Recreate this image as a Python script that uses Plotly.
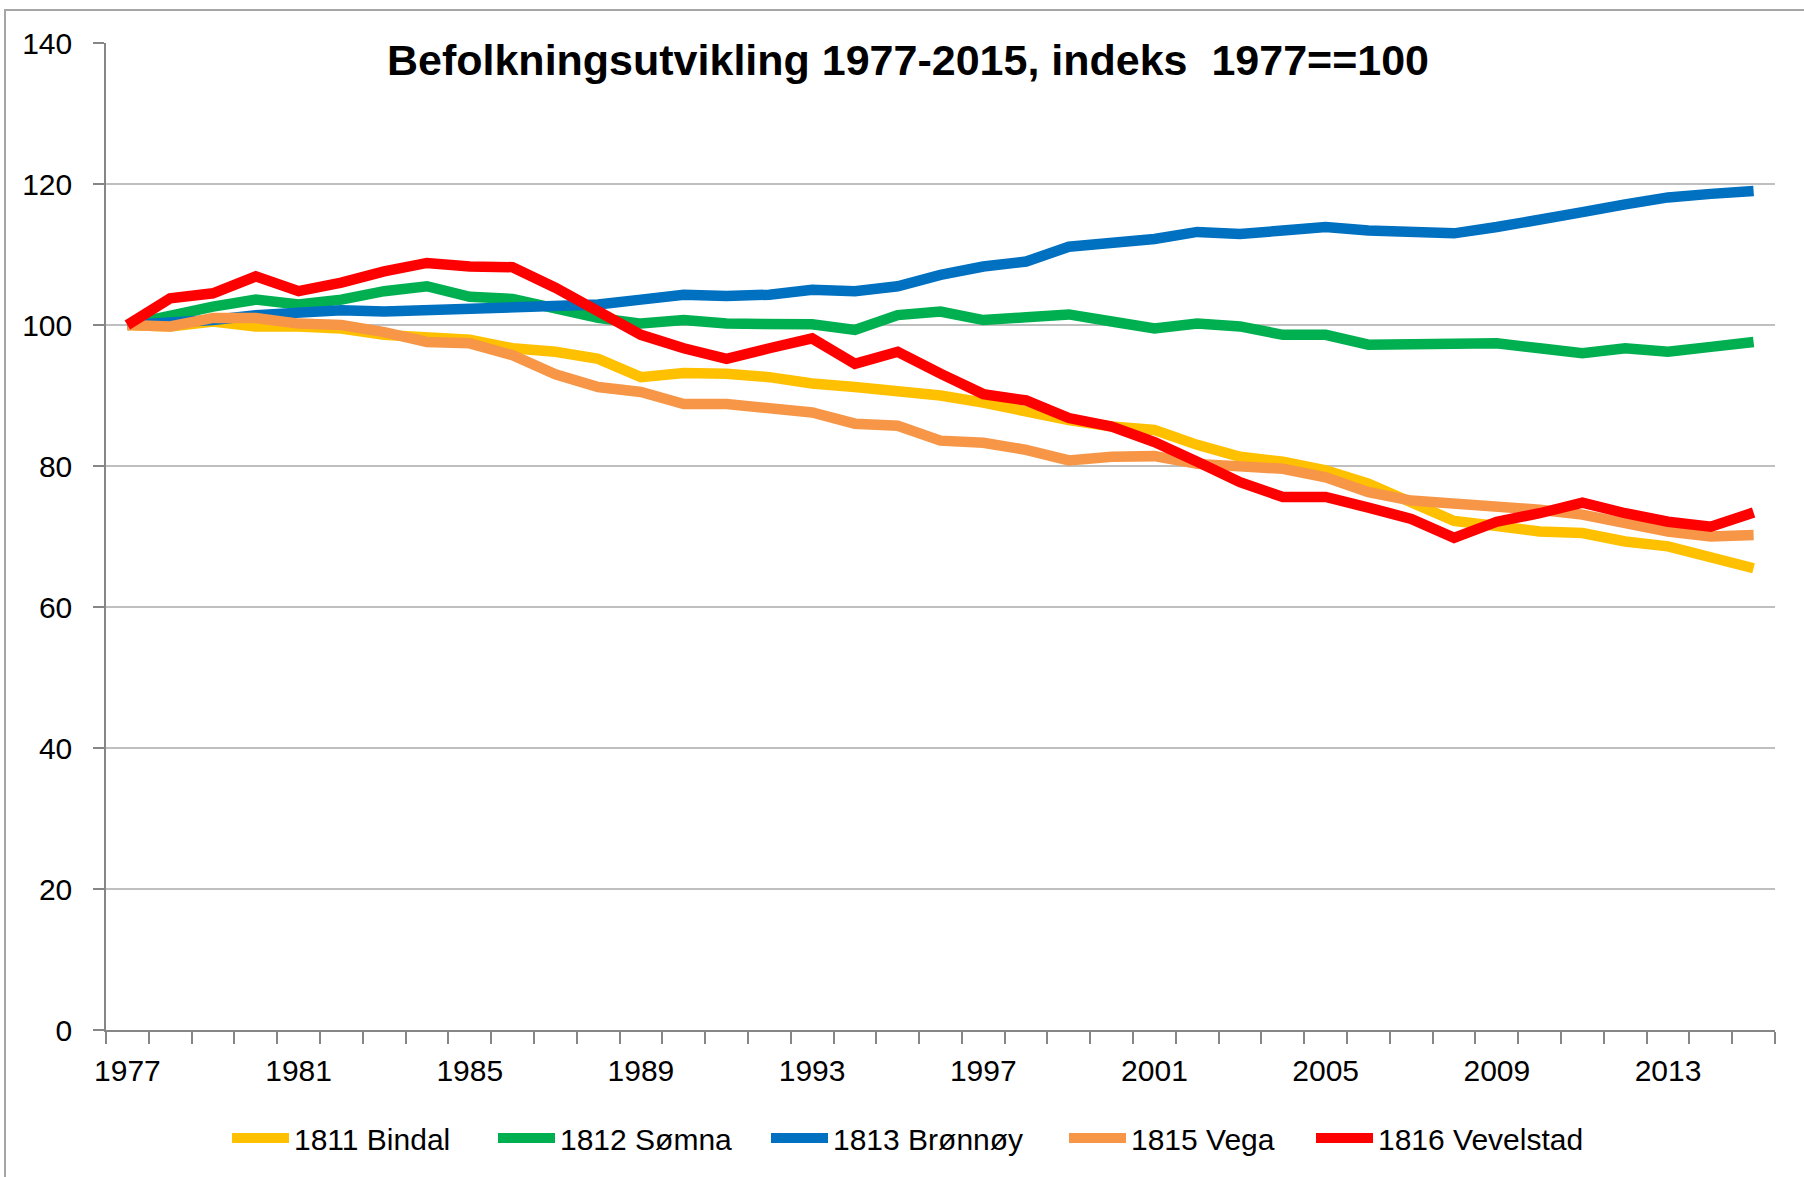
import plotly.graph_objects as go

years = list(range(1977, 2016))

bindal = [100, 99.8, 100.5, 99.8, 99.8, 99.5, 98.6, 98.3, 97.9, 96.7, 96.2, 95.2, 92.6, 93.2, 93.1,
          92.6, 91.7, 91.2, 90.7, 90.0, 89.0, 87.7, 86.5, 85.6, 85.1, 83.0, 81.3, 80.6, 79.4, 77.5,
          74.9, 72.2, 71.5, 70.7, 70.5, 69.3, 68.6, 66.9, 65.5]
somna = [100, 101.4, 102.6, 103.6, 102.9, 103.6, 104.8, 105.5, 104.0, 103.7, 102.5, 101.0, 100.2,
         100.7, 100.2, 100.2, 100.1, 99.3, 101.4, 101.9, 100.7, 101.1, 101.5, 100.5, 99.5, 100.2,
         99.8, 98.6, 98.6, 97.2, 97.2, 97.4, 97.4, 96.7, 96.0, 96.7, 96.2, 96.9, 97.6]
bronnoy = [100, 100.2, 100.7, 101.4, 101.9, 102.1, 101.9, 102.1, 102.3, 102.6, 102.5, 102.9, 103.6,
           104.3, 104.1, 104.3, 105.0, 104.8, 105.5, 107.1, 108.3, 109.0, 111.1, 111.5, 112.2, 113.2,
           112.9, 113.4, 113.9, 113.4, 113.2, 113.0, 113.9, 114.8, 116.0, 117.1, 118.1, 118.6, 119.0]
vega = [100, 99.8, 101.0, 101.0, 100.2, 100.0, 99.0, 97.6, 97.4, 95.7, 93.0, 91.2, 90.5, 88.8, 88.8,
        88.3, 87.6, 86.0, 85.7, 83.6, 83.3, 82.3, 80.8, 81.3, 81.4, 80.3, 80.1, 79.6, 78.4, 76.3,
        75.1, 74.7, 74.3, 73.8, 73.1, 71.9, 70.7, 70.0, 70.2]
vevelstad = [100, 103.8, 104.5, 106.9, 104.8, 106.0, 107.6, 108.8, 108.3, 108.2, 105.3, 101.8, 98.6,
             96.7, 95.2, 96.7, 98.1, 94.5, 96.2, 93.1, 90.2, 89.3, 86.8, 85.6, 83.4, 80.6, 77.7,
             75.6, 75.6, 74.1, 72.5, 69.8, 72.1, 73.3, 74.8, 73.3, 72.1, 71.4, 73.4]

series_names = ["1811 Bindal", "1812 Sømna", "1813 Brønnøy", "1815 Vega", "1816 Vevelstad"]
series_values = [bindal, somna, bronnoy, vega, vevelstad]
colors = ["#FFC000", "#00B050", "#0070C0", "#F79646", "#FF0000"]

x_tick_labels = [str(y) for y in range(1977, 2016, 4)]
y_ticks = [0, 20, 40, 60, 80, 100, 120, 140]

FONT = "Liberation Sans, Arial, sans-serif"

W, H = 1804, 1177
L, R, T, B = 106, 29, 43, 147
pw, ph = W - L - R, H - T - B

# left edge (px) of each legend entry's symbol
legend_left = [233, 499, 772, 1070, 1317]
legend_keys = ["legend", "legend2", "legend3", "legend4", "legend5"]

fig = go.Figure()
for name, vals, col, lk in zip(series_names, series_values, colors, legend_keys):
    fig.add_trace(go.Scatter(x=years, y=vals, name=name, mode="lines", legend=lk,
                             line=dict(color=col, width=10.5, shape="linear")))


def px(X):
    return (X - L) / pw


def py(Y):
    return (H - B - Y) / ph


legend_layout = {}
for lk, lx in zip(legend_keys, legend_left):
    legend_layout[lk] = dict(orientation="h", xref="container", x=(lx - 6) / W, xanchor="left",
                             yref="container", y=1 - 1138 / H, yanchor="middle",
                             font=dict(size=30, family=FONT, color="black"),
                             itemwidth=57, bgcolor="rgba(0,0,0,0)", borderwidth=0)

fig.update_layout(
    width=W, height=H,
    paper_bgcolor="white", plot_bgcolor="white",
    margin=dict(l=L, r=R, t=T, b=B),
    font=dict(family=FONT, size=30, color="black"),
    title=dict(text="<b>Befolkningsutvikling 1977-2015, indeks  1977==100</b>",
               x=908 / W, xanchor="center", y=1 - 60 / H, yanchor="middle",
               font=dict(family=FONT, size=43, color="black")),
    showlegend=True,
    xaxis=dict(range=[1976.5, 2015.5], tickmode="array", automargin=False,
               tickvals=list(range(1977, 2016, 4)), ticktext=x_tick_labels,
               ticks="", showgrid=False, zeroline=False,
               showline=True, linecolor="#868686", linewidth=1.5,
               ticklabelstandoff=13,
               minor=dict(tick0=1976.5, dtick=1, ticks="outside", ticklen=12,
                          tickcolor="#868686", tickwidth=1.5, showgrid=False)),
    yaxis=dict(range=[0, 140], tickvals=y_ticks, ticks="outside", ticklen=11,
               tickcolor="#868686", tickwidth=1.5, automargin=False,
               showgrid=True, gridcolor="#BFBFBF", gridwidth=1.5, zeroline=False,
               showline=True, linecolor="#868686", linewidth=1.5,
               ticklabelstandoff=15),
    **legend_layout,
)

fig.add_shape(type="rect", xref="paper", yref="paper",
              x0=px(5), x1=px(1830), y0=py(1200), y1=py(10),
              line=dict(color="#A6A6A6", width=2), fillcolor="rgba(0,0,0,0)", layer="below")

fig.write_html("out.html", config={"displayModeBar": False},
               post_script="document.body.style.margin='0';document.body.style.overflow='hidden';")
